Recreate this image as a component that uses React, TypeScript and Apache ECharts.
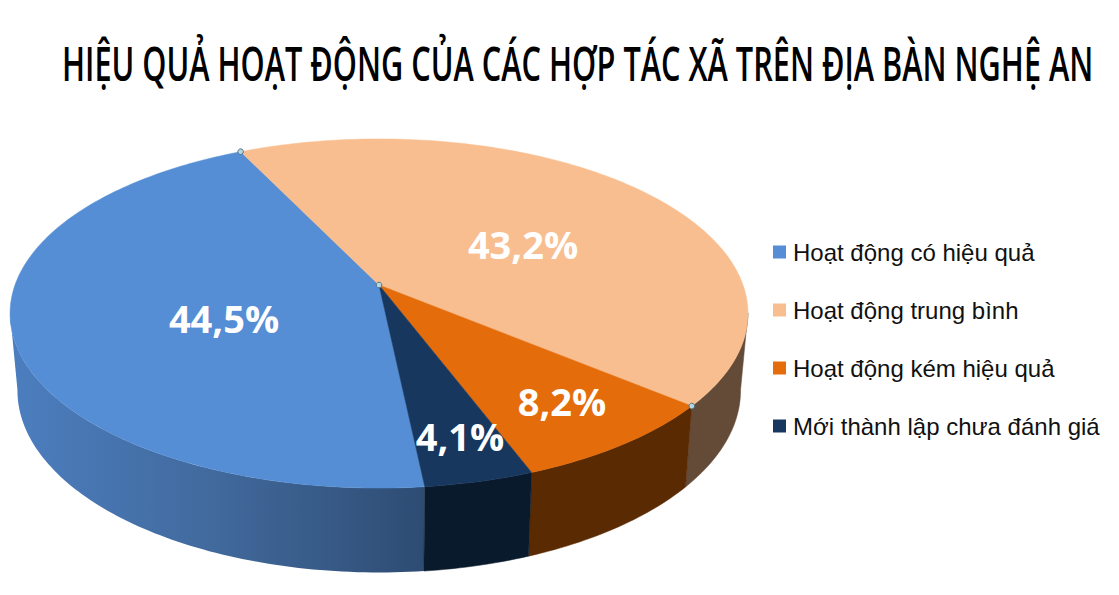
import React, { useEffect, useRef } from "react";
import * as echarts from "echarts";

const categories = ["Hoạt động có hiệu quả", "Hoạt động trung bình", "Hoạt động kém hiệu quả", "Mới thành lập chưa đánh giá"];
const shares = [44.5, 43.2, 8.2, 4.1];
const sweepOrder = [1, 2, 3, 0];
const topColors = ["#558ED5", "#F8BE8F", "#E46C0A", "#17375E"];
const titleText = "HIỆU QUẢ HOẠT ĐỘNG CỦA CÁC HỢP TÁC XÃ TRÊN ĐỊA BÀN NGHỆ AN";

const START_DEG = -25.85;
const PIVOT = { x: 379, y: 285 };
const A = 364, B = 169.9, P = 0.1632;
const BOTTOM_X = 0.98, BOTTOM_Y = 1.043, BOTTOM_SHIFT = 75.7;
const EDGE_DEG = 99.2;
const labelPos = [[224, 318], [523, 244], [562, 401], [460, 436]];

const sideFill: any[] = [
  { type: "linear", x: 0, y: 0, x2: 1, y2: 0, colorStops: [{ offset: 0, color: "#4C7EBF" }, { offset: 0.5, color: "#41699C" }, { offset: 1, color: "#2E4C73" }] },
  "#634B38",
  "#5A2A02",
  "#0A1A2D",
];

const rad = (d: number) => (d * Math.PI) / 180;
// Projects a point of the disc's plan (clockwise degrees from the far edge) on the page.
function project(deg: number, r = 1) {
  const u = r * Math.sin(rad(deg));
  const v = -r * Math.cos(rad(deg));
  const w = 1 - P * v;
  return [PIVOT.x + (A * u) / w, PIVOT.y + (B * v) / w];
}
function lower(p: number[]) {
  return [PIVOT.x + (p[0] - PIVOT.x) * BOTTOM_X, PIVOT.y + (p[1] - PIVOT.y) * BOTTOM_Y + BOTTOM_SHIFT];
}
function arc(from: number, to: number) {
  const n = Math.max(2, Math.ceil(Math.abs(to - from)));
  const pts: number[][] = [];
  for (let i = 0; i <= n; i++) pts.push(project(from + ((to - from) * i) / n));
  return pts;
}
function sweep(idx: number) {
  let a = START_DEG;
  for (const k of sweepOrder) {
    const s = (shares[k] / 100) * 360;
    if (k === idx) return [a, a + s];
    a += s;
  }
  return [a, a];
}
const fmt = (v: number) => v.toFixed(1).replace(".", ",") + "%";

function renderSlice(idx: number) {
  return (_p: any, api: any) => {
    const value = api.value(0);
    const [a0, a1] = sweep(idx);
    const children: any[] = [];
    const s0 = Math.max(a0, EDGE_DEG);
    const s1 = Math.min(a1, 360 - EDGE_DEG);
    if (s1 > s0) {
      const top = arc(s0, s1);
      const bottom = top.map(lower).reverse();
      const f = sideFill[idx];
      children.push({
        type: "polygon",
        shape: { points: top.concat(bottom) },
        style: { fill: f, stroke: typeof f === "string" ? f : "none", lineWidth: 0.5 },
        z2: 1,
      });
    }
    children.push({
      type: "polygon",
      shape: { points: [[PIVOT.x, PIVOT.y], ...arc(a0, a1)] },
      style: { fill: topColors[idx], stroke: topColors[idx], lineWidth: 0.5 },
      z2: 2,
    });
    if (idx === 1) {
      for (const h of [[PIVOT.x, PIVOT.y], project(a0), project(a1)]) {
        children.push({
          type: "circle",
          shape: { cx: h[0], cy: h[1], r: 2.8 },
          style: { fill: "#B5D6E2", stroke: "#4F7686", lineWidth: 1 },
          z2: 8,
        });
      }
    }
    children.push({
      type: "text",
      x: labelPos[idx][0],
      y: labelPos[idx][1],
      style: {
        text: fmt(value),
        fill: "#FFFFFF",
        font: 'bold 38px "Open Sans"',
        align: "center",
        verticalAlign: "middle",
      },
      z2: 10,
    });
    return { type: "group", children };
  };
}

export default function App() {
  const ref = useRef<HTMLDivElement>(null);
  useEffect(() => {
    const chart = echarts.init(ref.current!, undefined, { renderer: "svg" });
    chart.setOption({
      animation: false,
      backgroundColor: "#FFFFFF",
      graphic: [
        {
          type: "text",
          x: 62,
          y: 63,
          scaleX: 0.653,
          style: {
            text: titleText,
            fill: "#000000",
            font: '600 47px "Open Sans"',
            verticalAlign: "middle",
          },
        },
      ],
      legend: {
        orient: "vertical",
        left: 773,
        top: 239,
        padding: 0,
        icon: "rect",
        itemWidth: 13,
        itemHeight: 13,
        itemGap: 32,
        data: categories,
        textStyle: { fontFamily: '"Liberation Sans"', fontSize: 24, color: "#111111", padding: [0, 0, 0, 2], lineHeight: 26 },
        selectedMode: false,
      },
      series: categories.map((name, i) => ({
        type: "custom",
        name,
        coordinateSystem: "none",
        silent: true,
        itemStyle: { color: topColors[i] },
        data: [[shares[i]]],
        renderItem: renderSlice(i),
      })),
    });
    return () => chart.dispose();
  }, []);
  return <div ref={ref} style={{ position: "fixed", left: 0, top: 0, width: 1119, height: 595 }} />;
}
